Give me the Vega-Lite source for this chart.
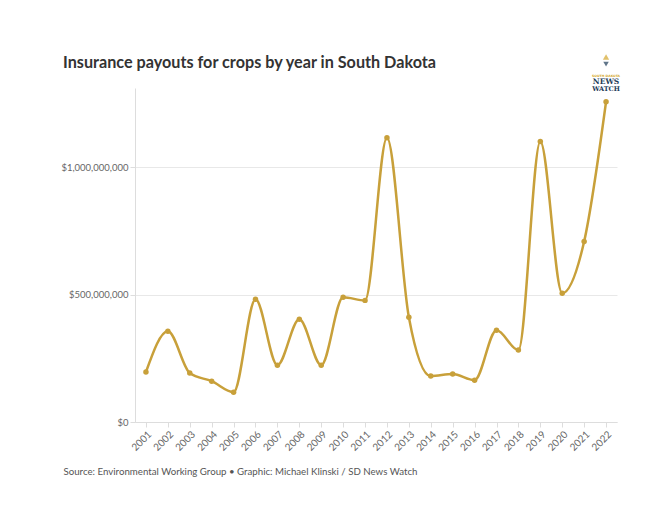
{
  "$schema": "https://vega.github.io/schema/vega-lite/v6.json",
  "width": 482,
  "height": 334,
  "autosize": {"type": "none"},
  "padding": {"left": 135, "top": 88, "right": 38, "bottom": 90},
  "background": "white",
  "title": {
    "text": "Insurance payouts for crops by year in South Dakota",
    "anchor": "start",
    "frame": "group",
    "dx": -72,
    "dy": 33,
    "offset": 16,
    "font": "Lato",
    "fontSize": 16.2,
    "fontWeight": "bold",
    "color": "#333333"
  },
  "config": {"view": {"stroke": null}, "font": "Lato"},
  "data": {
    "values": [
      {"year": "2001", "payout": 196000000},
      {"year": "2002", "payout": 356000000},
      {"year": "2003", "payout": 192000000},
      {"year": "2004", "payout": 160000000},
      {"year": "2005", "payout": 117000000},
      {"year": "2006", "payout": 481000000},
      {"year": "2007", "payout": 223000000},
      {"year": "2008", "payout": 403000000},
      {"year": "2009", "payout": 223000000},
      {"year": "2010", "payout": 489000000},
      {"year": "2011", "payout": 477000000},
      {"year": "2012", "payout": 1115000000},
      {"year": "2013", "payout": 411000000},
      {"year": "2014", "payout": 180000000},
      {"year": "2015", "payout": 188000000},
      {"year": "2016", "payout": 164000000},
      {"year": "2017", "payout": 360000000},
      {"year": "2018", "payout": 282000000},
      {"year": "2019", "payout": 1100000000},
      {"year": "2020", "payout": 505000000},
      {"year": "2021", "payout": 708000000},
      {"year": "2022", "payout": 1256000000}
    ]
  },
  "layer": [
    {
      "mark": {
        "type": "line",
        "interpolate": "monotone",
        "color": "#c8a03a",
        "strokeWidth": 2.5,
        "point": {"filled": true, "size": 30, "color": "#c8a03a"}
      },
      "encoding": {
        "x": {
          "field": "year",
          "type": "ordinal",
          "scale": {"type": "point", "padding": 0.5},
          "axis": {
            "labelAngle": -45,
            "labelFontSize": 10,
            "labelColor": "#666666",
            "tickColor": "#dddddd",
            "domainColor": "#dddddd",
            "tickSize": 5,
            "grid": false,
            "title": "Source: Environmental Working Group • Graphic: Michael Klinski / SD News Watch",
            "titleX": -72,
            "titleY": 52,
            "titleAlign": "left",
            "titleAnchor": "start",
            "titleBaseline": "alphabetic",
            "titleFontWeight": "normal",
            "titleFontSize": 9.7,
            "titleColor": "#555555"
          }
        },
        "y": {
          "field": "payout",
          "type": "quantitative",
          "scale": {"domain": [0, 1310000000], "nice": false},
          "axis": {
            "values": [0, 500000000, 1000000000],
            "format": "$,.0f",
            "title": null,
            "grid": true,
            "gridColor": "#e8e8e8",
            "domainColor": "#dddddd",
            "tickColor": "#dddddd",
            "tickSize": 5,
            "labelPadding": 2,
            "labelFontSize": 9.5,
            "labelColor": "#666666"
          }
        }
      }
    },
    {
      "data": {"values": [{}]},
      "mark": {"type": "point", "shape": "triangle-up", "filled": true, "color": "#d4a72c", "size": 40},
      "encoding": {"x": {"datum": "2022"}, "y": {"datum": 1431600000}}
    },
    {
      "data": {"values": [{}]},
      "mark": {"type": "point", "shape": "triangle-down", "filled": true, "color": "#1d3b57", "size": 30},
      "encoding": {"x": {"datum": "2022"}, "y": {"datum": 1404000000}}
    },
    {
      "data": {"values": [{}]},
      "mark": {"type": "text", "text": "SOUTH DAKOTA", "font": "DejaVu Sans", "fontSize": 3.2, "fontWeight": "bold", "color": "#d4a72c", "baseline": "middle"},
      "encoding": {"x": {"datum": "2022"}, "y": {"datum": 1358200000}}
    },
    {
      "data": {"values": [{}]},
      "mark": {"type": "text", "text": "NEWS", "font": "DejaVu Serif", "fontSize": 7.5, "fontWeight": "bold", "color": "#1d3b57", "baseline": "middle"},
      "encoding": {"x": {"datum": "2022"}, "y": {"datum": 1335460000}}
    },
    {
      "data": {"values": [{}]},
      "mark": {"type": "text", "text": "WATCH", "font": "DejaVu Serif", "fontSize": 6.5, "fontWeight": "bold", "color": "#1d3b57", "baseline": "middle"},
      "encoding": {"x": {"datum": "2022"}, "y": {"datum": 1307600000}}
    }
  ]
}
